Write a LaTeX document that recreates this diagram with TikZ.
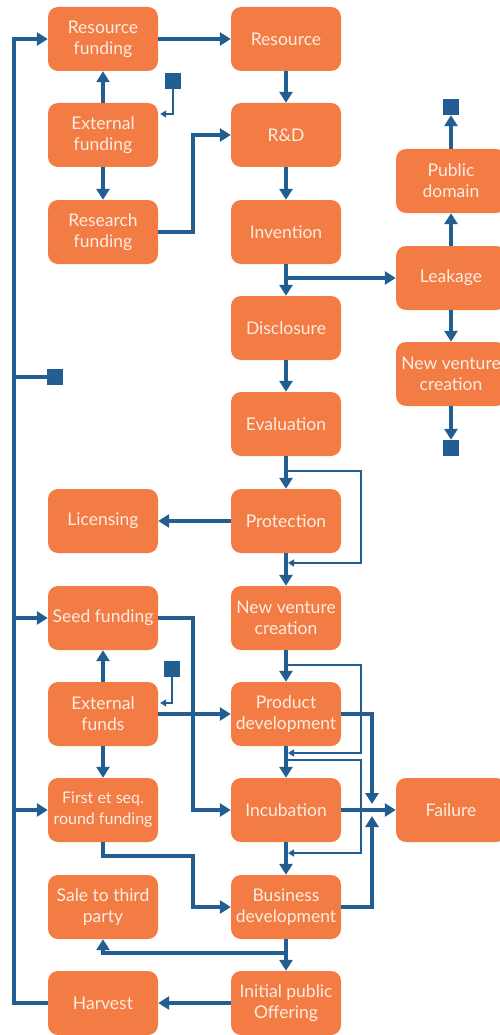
\documentclass[tikz,border=0pt]{standalone}
\usepackage{fontspec}
\setmainfont{Lato}
\usetikzlibrary{arrows.meta}
\definecolor{boxfill}{HTML}{F37B44}
\definecolor{boxtext}{HTML}{FDEDE2}
\definecolor{flow}{HTML}{235E92}
\tikzset{
  stage/.style={rectangle, rounded corners=10pt, fill=boxfill, draw=none,
    minimum width=110pt, minimum height=64pt, inner sep=0pt, align=center,
    text=boxtext, font=\fontsize{17.5}{21}\selectfont},
  sink/.style={rectangle, fill=flow, minimum size=16pt, inner sep=0pt},
  heavy/.style={draw=flow, line width=4pt, -{Triangle[length=11pt,width=13pt]}},
  heavyline/.style={draw=flow, line width=4pt},
  light/.style={draw=flow, line width=1.4pt, -{Triangle[length=6pt,width=7pt]}},
}
\begin{document}
\begin{tikzpicture}[x=1pt,y=-1pt]
\useasboundingbox (0,0) rectangle (500,1035);
\clip (0,0) rectangle (500,1035);

% funding side (left column)
\node[stage] (rf)    at (103,39)   {Resource\\funding};
\node[stage] (ef)    at (103,135)  {External\\funding};
\node[stage] (rsf)   at (103,232)  {Research\\funding};
\node[stage] (lic)   at (103,521)  {Licensing};
\node[stage] (seed)  at (103,618)  {Seed funding};
\node[stage] (efs)   at (103,714)  {External\\funds};
\node[stage] (first) at (103,810)  {\fontsize{16}{21}\selectfont First et seq.\\\fontsize{16}{21}\selectfont round funding};
\node[stage] (sale)  at (103,907)  {Sale to third\\party};
\node[stage] (harv)  at (103,1003) {Harvest};

% main pipeline (middle column)
\node[stage] (res)  at (286,39)   {Resource};
\node[stage] (rd)   at (286,135)  {R\&D};
\node[stage] (inv)  at (286,232)  {Invention};
\node[stage] (disc) at (286,328)  {Disclosure};
\node[stage] (eval) at (286,424)  {Evaluation};
\node[stage] (prot) at (286,521)  {Protection};
\node[stage] (nvc)  at (286,618)  {New venture\\creation};
\node[stage] (prod) at (286,714)  {Product\\development};
\node[stage] (inc)  at (286,810)  {Incubation};
\node[stage] (bus)  at (286,907)  {Business\\development};
\node[stage] (ipo)  at (286,1003) {Initial public\\Offering};

% leakage branch and failure (right column)
\node[stage] (pd)   at (451,181) {Public\\domain};
\node[stage] (leak) at (451,278) {Leakage};
\node[stage] (nvr)  at (451,374) {New venture\\creation};
\node[stage] (fail) at (451,810) {Failure};

% terminal squares
\node[sink] (sqtop) at (451,107) {};
\node[sink] (sqbot) at (451,448) {};
\node[sink] (sqA)   at (173,81)  {};
\node[sink] (sqB)   at (172,669) {};
\node[sink] (sqL)   at (55,377)  {};

% bend points
\coordinate (rsfk)  at (193,232);
\coordinate (invk)  at (286,278);
\coordinate (bpA1)  at (286,471);
\coordinate (bpA2)  at (361,563);
\coordinate (bpA3)  at (288,563);
\coordinate (bpB1)  at (286,665);
\coordinate (bpB2)  at (361,753);
\coordinate (bpB3)  at (288,753);
\coordinate (bpC1)  at (286,760);
\coordinate (bpC2)  at (361,853);
\coordinate (bpC3)  at (288,853);
\coordinate (pdk)   at (372,714);
\coordinate (pdt)   at (372,804);
\coordinate (bdk)   at (372,907);
\coordinate (bdt)   at (372,816);
\coordinate (seedk) at (193,618);
\coordinate (fk1)   at (193,856);
\coordinate (bsk)   at (286,953);
\coordinate (lk)    at (14,39);
\coordinate (lseed) at (14,618);
\coordinate (lfirst) at (14,810);
\coordinate (lsq)   at (14,377);

% top funding block
\draw[heavy] (rf.east) -- (res.west);
\draw[heavy] (ef.north) -- (rf.south);
\draw[heavy] (ef.south) -- (rsf.north);
\draw[heavy] (rsf.east) -- (rsfk) |- (rd.west);
\draw[light] (sqA.south) |- ([xshift=2pt,yshift=21pt]ef.east);

% main pipeline
\draw[heavy] (res.south) -- (rd.north);
\draw[heavy] (rd.south) -- (inv.north);
\draw[heavy] (inv.south) -- (disc.north);
\draw[heavy] (invk) -- (leak.west);
\draw[heavy] (disc.south) -- (eval.north);
\draw[heavy] (eval.south) -- (prot.north);
\draw[heavy] (prot.south) -- (nvc.north);
\draw[heavy] (prot.west) -- (lic.east);
\draw[heavy] (nvc.south) -- (prod.north);
\draw[heavy] (prod.south) -- (inc.north);
\draw[heavy] (inc.south) -- (bus.north);
\draw[heavy] (bus.south) -- (ipo.north);
\draw[heavy] (ipo.west) -- (harv.east);

% leakage branch
\draw[heavy] (leak.north) -- (pd.south);
\draw[heavy] (pd.north) -- (sqtop.south);
\draw[heavy] (leak.south) -- (nvr.north);
\draw[heavy] (nvr.south) -- (sqbot.north);

% stage bypasses
\draw[light] (bpA1) -| (bpA2) -- (bpA3);
\draw[light] (bpB1) -| (bpB2) -- (bpB3);
\draw[light] (bpC1) -| (bpC2) -- (bpC3);

% routes to failure
\draw[heavy] (prod.east) -- (pdk) -- (pdt);
\draw[heavy] (inc.east) -- (fail.west);
\draw[heavy] (bus.east) -- (bdk) -- (bdt);

% venture funding block
\draw[heavy] (seed.east) -- (seedk) |- (inc.west);
\draw[heavy] (efs.east) -- (prod.west);
\draw[heavy] (efs.north) -- (seed.south);
\draw[heavy] (efs.south) -- (first.north);
\draw[heavy] (first.south) |- (fk1) |- (bus.west);
\draw[light] (sqB.south) |- ([xshift=2pt,yshift=11pt]efs.east);
\draw[heavy] (bsk) -| (sale.south);

% harvest feedback loop
\draw[heavy] (harv.west) -| (lk) -- (rf.west);
\draw[heavy] (lseed) -- (seed.west);
\draw[heavy] (lfirst) -- (first.west);
\draw[heavyline] (lsq) -- (sqL.west);
\end{tikzpicture}
\end{document}
